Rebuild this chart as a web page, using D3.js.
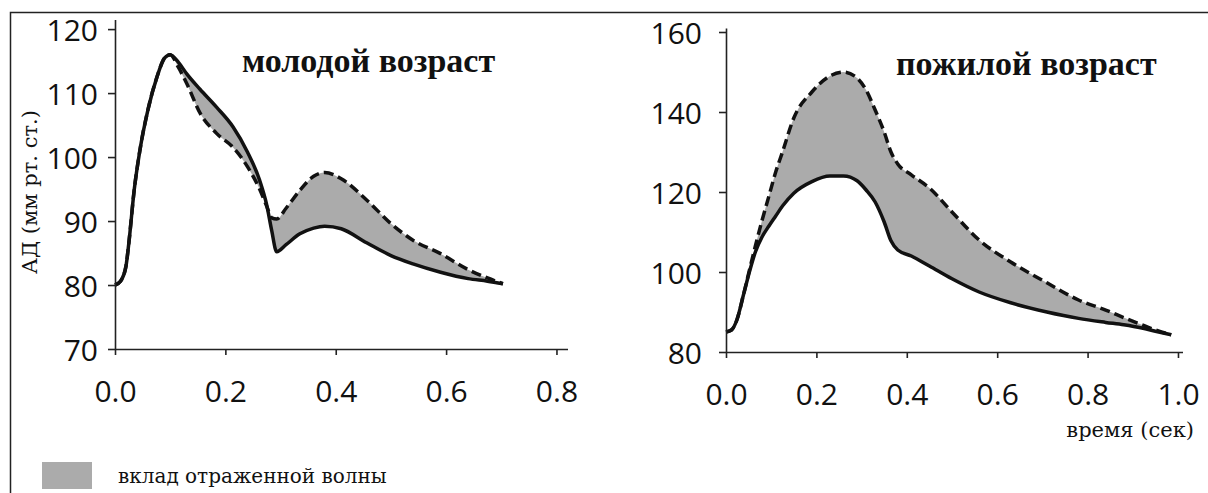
<!DOCTYPE html>
<html>
<head>
<meta charset="utf-8">
<script src="https://cdn.jsdelivr.net/npm/d3@7"></script>
<style>
  body { margin: 0; background: #fff; }
  .tick text { font-family: "Open Sans", sans-serif; font-size: 30px; fill: #111; }
  .mono { font-family: "DejaVu Serif", serif; font-size: 20px; fill: #111; }
  .axlabel { font-family: "DejaVu Serif", serif; font-size: 21px; fill: #111; }
  .title { font-family: "Liberation Serif", serif; font-weight: bold; font-size: 34px; fill: #111; }
</style>
</head>
<body>
<script>
'use strict';

// молодой возраст: время (сек), давление (мм рт. ст.)
const youngTime = [0, 0.01, 0.02, 0.025, 0.035, 0.045, 0.06, 0.076, 0.09, 0.1, 0.115, 0.13, 0.154, 0.184,
  0.214, 0.24, 0.262, 0.275, 0.284, 0.293, 0.31, 0.335, 0.36, 0.38, 0.41, 0.456, 0.5, 0.54, 0.59, 0.64, 0.675, 0.703];
const youngSolid = [80, 80.6, 83, 86.5, 95, 101, 107.5, 112.5, 115.5, 116, 114.8, 113, 110.6, 107.8,
  104.7, 100.8, 96.4, 92.5, 88.5, 85.2, 86.3, 88, 88.9, 89.2, 88.8, 86.6, 84.6, 83.3, 82, 81, 80.6, 80.2];
const youngDashed = [80, 80.6, 83, 86.5, 95, 101, 107.5, 112.5, 115.5, 116, 114, 111.5, 106.9, 103.7,
  101.5, 98.5, 95, 92.3, 90.5, 90.3, 92, 94.8, 97, 97.6, 96.6, 93.3, 89.6, 87, 84.9, 82.4, 81.1, 80.2];

// пожилой возраст
const oldTime = [0, 0.012, 0.024, 0.038, 0.053, 0.065, 0.08, 0.095, 0.11, 0.125, 0.15, 0.19, 0.23, 0.26,
  0.29, 0.31, 0.33, 0.35, 0.365, 0.38, 0.41, 0.45, 0.5, 0.56, 0.63, 0.71, 0.78, 0.84, 0.88, 0.92, 0.95, 0.985];
const oldSolid = [85, 85.5, 88, 94, 100.5, 105, 108.8, 111.5, 114, 116.5, 119.7, 122.6, 124, 124,
  122.8, 120.5, 117.5, 112.5, 107.8, 105.5, 104, 101.5, 98.3, 95, 92.3, 90, 88.4, 87.4, 86.8, 86, 85.2, 84.3];
const oldDashed = [85, 85.5, 88, 94, 101, 106.5, 113, 119, 125, 130, 138.5, 145, 149, 150,
  148.5, 145.5, 140.5, 135, 130, 127, 124.3, 121, 115, 108, 102.5, 97.3, 93, 90.5, 88.6, 86.8, 85.5, 84.3];

const youngXTicks = [0, 0.2, 0.4, 0.6, 0.8];
const youngYTicks = [70, 80, 90, 100, 110, 120];
const oldXTicks = [0, 0.2, 0.4, 0.6, 0.8, 1.0];
const oldYTicks = [80, 100, 120, 140, 160];

const yAxisLabel = "АД (мм рт. ст.)";
const xAxisLabel = "время (сек)";
const legendLabel = "вклад отраженной волны";

const svg = d3.select("body").append("svg")
  .attr("width", 1208)
  .attr("height", 493);

// frame of the figure
svg.append("path")
  .attr("d", "M10.5,493 V12.5 H1208")
  .attr("fill", "none")
  .attr("stroke", "#222")
  .attr("stroke-width", 1.5);

function drawPanel(opts) {
  let x = d3.scaleLinear().domain(opts.xDomain).range(opts.xRange);
  let y = d3.scaleLinear().domain(opts.yDomain).range(opts.yRange);
  let g = svg.append("g");

  // shaded area between the curves
  let area = d3.area()
    .curve(d3.curveMonotoneX)
    .x((d, i) => x(opts.time[i]))
    .y0((d, i) => y(opts.solid[i]))
    .y1((d, i) => y(opts.dashed[i]));
  g.append("path")
    .datum(opts.time)
    .attr("d", area)
    .attr("fill", "#ababab");

  let line = (vals) => d3.line()
    .curve(d3.curveMonotoneX)
    .x((d, i) => x(opts.time[i]))
    .y((d, i) => y(vals[i]))(opts.time);

  g.append("path")
    .attr("d", line(opts.dashed))
    .attr("fill", "none")
    .attr("stroke", "#111")
    .attr("stroke-width", 3.5)
    .attr("stroke-dasharray", "10,5");

  g.append("path")
    .attr("d", line(opts.solid))
    .attr("fill", "none")
    .attr("stroke", "#111")
    .attr("stroke-width", 3.5)
    .attr("stroke-linejoin", "round");

  // axes
  let xAxis = g.append("g")
    .attr("transform", "translate(0," + y(opts.yDomain[0]) + ")")
    .call(d3.axisBottom(x).tickValues(opts.xTicks).tickFormat(d3.format(".1f"))
      .tickSize(6).tickSizeOuter(0));
  xAxis.selectAll("text").attr("y", 53).attr("dy", 0);

  let yAxis = g.append("g")
    .attr("transform", "translate(" + x(0) + ",0)")
    .call(d3.axisLeft(y).tickValues(opts.yTicks).tickSize(7).tickSizeOuter(0));
  yAxis.selectAll("text").attr("x", opts.yLabelGap).attr("dy", "0.38em");

  g.selectAll(".domain").attr("stroke", "#222").attr("stroke-width", 1.6);
  g.selectAll(".tick line").attr("stroke", "#222").attr("stroke-width", 1.6);

  g.append("text")
    .attr("class", "title")
    .attr("x", opts.titleX)
    .attr("y", opts.titleY)
    .text(opts.title);
}

drawPanel({
  time: youngTime, solid: youngSolid, dashed: youngDashed,
  xDomain: [0, 0.82], xRange: [115, 567.5],
  yDomain: [70, 121.5], yRange: [349, 19.5],
  xTicks: youngXTicks, yTicks: youngYTicks,
  yLabelGap: -17,
  title: "молодой возраст", titleX: 242, titleY: 72
});

drawPanel({
  time: oldTime, solid: oldSolid, dashed: oldDashed,
  xDomain: [0, 1.01], xRange: [726, 1182.5],
  yDomain: [80, 161], yRange: [352, 28],
  xTicks: oldXTicks, yTicks: oldYTicks,
  yLabelGap: -24,
  title: "пожилой возраст", titleX: 896, titleY: 75
});

// axis labels
svg.append("text")
  .attr("class", "axlabel")
  .attr("transform", "translate(37,192)rotate(-90)")
  .attr("text-anchor", "middle")
  .text(yAxisLabel);

svg.append("text")
  .attr("class", "axlabel")
  .attr("x", 1194)
  .attr("y", 437)
  .attr("text-anchor", "end")
  .text(xAxisLabel);

// legend
svg.append("rect")
  .attr("x", 42)
  .attr("y", 462)
  .attr("width", 50)
  .attr("height", 27)
  .attr("fill", "#ababab");

svg.append("text")
  .attr("class", "mono")
  .attr("x", 118)
  .attr("y", 483)
  .text(legendLabel);
</script>
</body>
</html>
